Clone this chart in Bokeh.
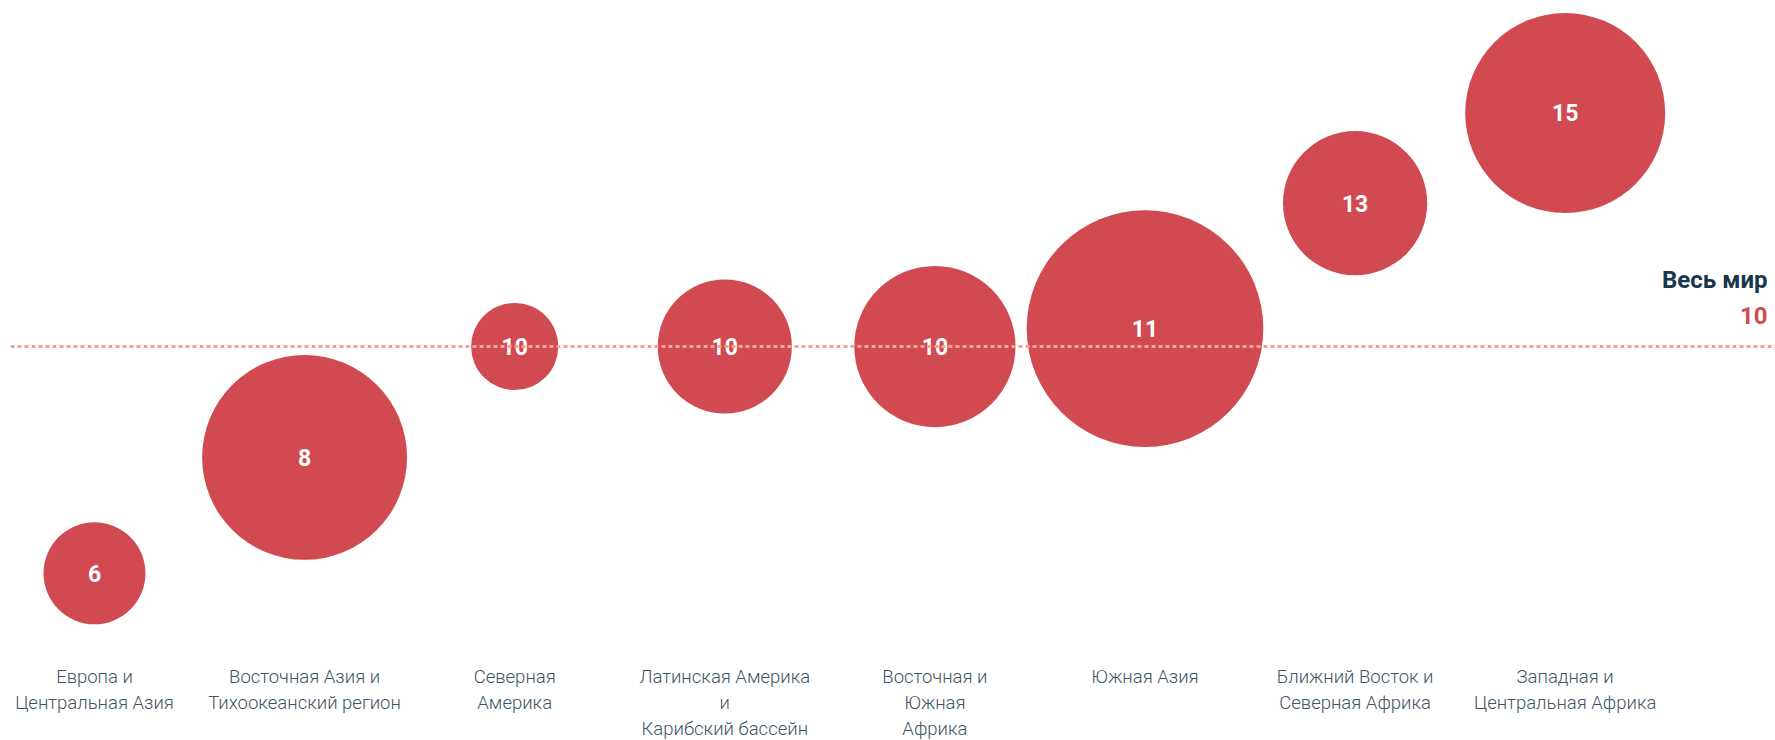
import numpy as np
from bokeh.plotting import figure
from bokeh.models import Range1d, FixedTicker, ColumnDataSource, Span
from bokeh.core.properties import value
from bokeh.embed import file_html
from bokeh.resources import INLINE

# ---- data ----
regions = [
    "Европа и\nЦентральная Азия",
    "Восточная Азия и\nТихоокеанский регион",
    "Северная\nАмерика",
    "Латинская Америка\nи\nКарибский бассейн",
    "Восточная и\nЮжная\nАфрика",
    "Южная Азия",
    "Ближний Восток и\nСеверная Африка",
    "Западная и\nЦентральная Африка",
]
rate = [5.95, 8.02, 10.0, 10.0, 10.0, 10.32, 12.56, 14.17]   # plotted value
rate_label = ["6", "8", "10", "10", "10", "11", "13", "15"]  # shown value
bubble_size = [26, 105, 19, 45, 65, 140, 52, 100]            # bubble area measure
world_value = 10.0
world_label = "Весь мир"
world_value_label = "10"

RED = "#d14a51"
NAVY = "#17374d"
LABEL = "#3f5466"
FONT = "Roboto"
LIGHT_FONT = "'Roboto Light', Roboto"

idx = np.arange(len(regions))
radius_px = 10 * np.sqrt(np.array(bubble_size, dtype=float))

src = ColumnDataSource(dict(x=idx, y=rate, r=radius_px, lab=rate_label))

p = figure(frame_width=1765, frame_height=648, output_backend="svg",
           toolbar_location=None, min_border=0, min_border_left=10,
           x_range=Range1d(-0.3998, 8.001), y_range=Range1d(4.607, 16.179))
p.outline_line_color = None
p.xgrid.visible = False
p.ygrid.visible = False
p.yaxis.visible = False
p.background_fill_color = "white"
p.border_fill_color = "white"

ax = p.xaxis[0]
ax.ticker = FixedTicker(ticks=list(idx))
ax.major_label_overrides = {int(i): regions[i] for i in idx}
ax.axis_line_color = None
ax.major_tick_line_color = None
ax.minor_tick_line_color = None
ax.major_tick_in = 0
ax.major_tick_out = 0
ax.minor_tick_out = 0
ax.major_label_standoff = 17
ax.major_label_text_font = LIGHT_FONT
ax.major_label_text_font_size = "18.5px"
ax.major_label_text_color = LABEL
ax.major_label_text_line_height = 1.2

p.circle(x="x", y="y", radius="r", radius_units="screen", source=src,
         fill_color=RED, line_color=None)

# world reference line (drawn over the bubbles)
p.add_layout(Span(location=world_value, dimension="width", line_color="#efa596",
                  line_width=3, line_dash="4 3", level="overlay"))

p.text(x="x", y="y", text="lab", source=src, text_color="white",
       text_font=value(FONT), text_font_style="bold", text_font_size="23px",
       text_align="center", text_baseline="middle")

xr = p.x_range.end
p.text(x=[xr], y=[world_value], text=[world_label], y_offset=-67, x_offset=-8,
       text_color=NAVY, text_font=value(FONT), text_font_style="bold",
       text_font_size="24px", text_align="right", text_baseline="middle")
p.text(x=[xr], y=[world_value], text=[world_value_label], y_offset=-31, x_offset=-8,
       text_color=RED, text_font=value(FONT), text_font_style="bold",
       text_font_size="24px", text_align="right", text_baseline="middle")

open("out.html", "w").write(file_html(p, INLINE))
